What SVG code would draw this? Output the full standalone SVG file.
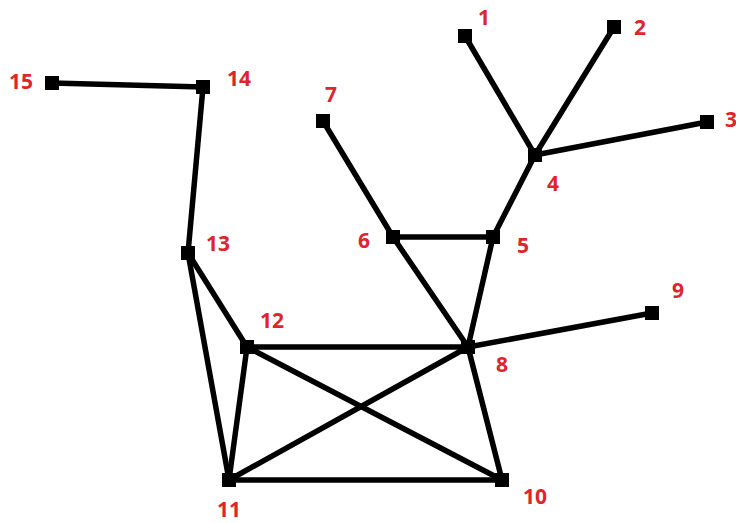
<svg xmlns="http://www.w3.org/2000/svg" width="736" height="523" viewBox="0 0 736 523">
<style>
.e{stroke:#000;stroke-width:5.5;stroke-linecap:round}
.n{fill:#000}
.t{fill:#e0242c;font-family:"Open Sans","DejaVu Sans",sans-serif;font-weight:bold;font-size:21px;text-anchor:middle;dominant-baseline:central}
</style>
<rect width="736" height="523" fill="#fff"/>
<g id="connectors">
<line class="e" x1="465" y1="36" x2="535" y2="155"/>
<line class="e" x1="614" y1="27" x2="535" y2="155"/>
<line class="e" x1="707" y1="122" x2="535" y2="155"/>
<line class="e" x1="535" y1="155" x2="493" y2="237"/>
<line class="e" x1="493" y1="237" x2="393" y2="237"/>
<line class="e" x1="323" y1="121" x2="393" y2="237"/>
<line class="e" x1="393" y1="237" x2="468" y2="347"/>
<line class="e" x1="493" y1="237" x2="468" y2="347"/>
<line class="e" x1="468" y1="347" x2="652" y2="313"/>
<line class="e" x1="468" y1="347" x2="247" y2="347"/>
<line class="e" x1="468" y1="347" x2="229" y2="480"/>
<line class="e" x1="468" y1="347" x2="502" y2="480"/>
<line class="e" x1="247" y1="347" x2="502" y2="480"/>
<line class="e" x1="247" y1="347" x2="229" y2="480"/>
<line class="e" x1="229" y1="480" x2="502" y2="480"/>
<line class="e" x1="188" y1="253" x2="247" y2="347"/>
<line class="e" x1="188" y1="253" x2="229" y2="480"/>
<line class="e" x1="188" y1="253" x2="203" y2="87"/>
<line class="e" x1="203" y1="87" x2="52" y2="83"/>
</g>
<g id="n1"><rect class="n" x="458" y="29" width="14" height="14"/><text class="t" x="484" y="17">1</text></g>
<g id="n2"><rect class="n" x="607" y="20" width="14" height="14"/><text class="t" x="640" y="27">2</text></g>
<g id="n3"><rect class="n" x="700" y="115" width="14" height="14"/><text class="t" x="731" y="119">3</text></g>
<g id="n4"><rect class="n" x="528" y="148" width="14" height="14"/><text class="t" x="553" y="183">4</text></g>
<g id="n5"><rect class="n" x="486" y="230" width="14" height="14"/><text class="t" x="523" y="245">5</text></g>
<g id="n6"><rect class="n" x="386" y="230" width="14" height="14"/><text class="t" x="364" y="240">6</text></g>
<g id="n7"><rect class="n" x="316" y="114" width="14" height="14"/><text class="t" x="331" y="94">7</text></g>
<g id="n8"><rect class="n" x="461" y="340" width="14" height="14"/><text class="t" x="502" y="364">8</text></g>
<g id="n9"><rect class="n" x="645" y="306" width="14" height="14"/><text class="t" x="678" y="290">9</text></g>
<g id="n10"><rect class="n" x="495" y="473" width="14" height="14"/><text class="t" x="535" y="496">10</text></g>
<g id="n11"><rect class="n" x="222" y="473" width="14" height="14"/><text class="t" x="229" y="509">11</text></g>
<g id="n12"><rect class="n" x="240" y="340" width="14" height="14"/><text class="t" x="272" y="320">12</text></g>
<g id="n13"><rect class="n" x="181" y="246" width="14" height="14"/><text class="t" x="218" y="243">13</text></g>
<g id="n14"><rect class="n" x="196" y="80" width="14" height="14"/><text class="t" x="239" y="78">14</text></g>
<g id="n15"><rect class="n" x="45" y="76" width="14" height="14"/><text class="t" x="21" y="81">15</text></g>
</svg>
